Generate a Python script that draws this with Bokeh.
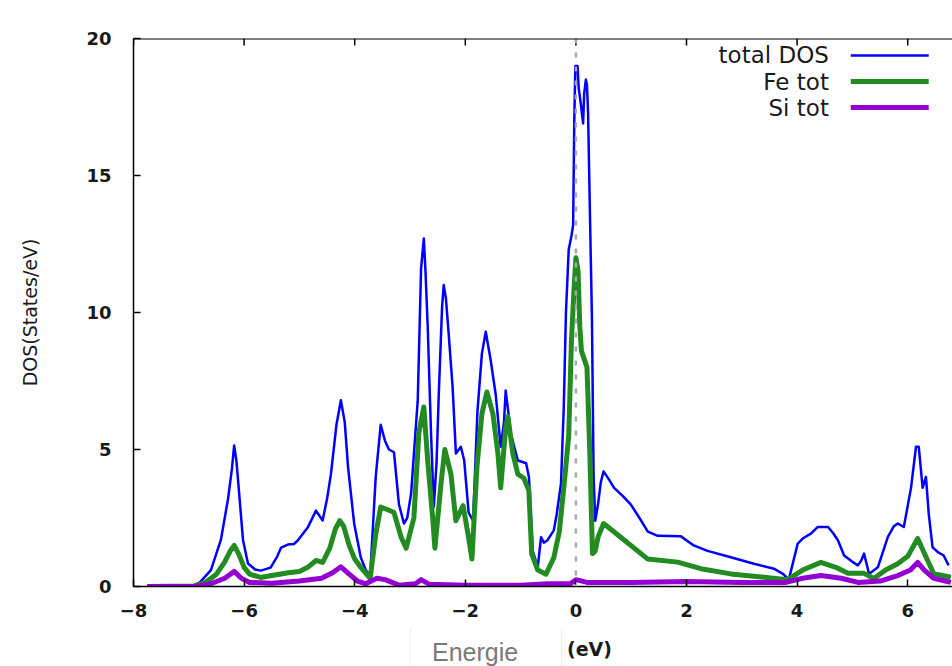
from bokeh.plotting import figure
from bokeh.models import Range1d, FixedTicker, Label, Span, Div
from bokeh.layouts import column
from bokeh.embed import file_html
from bokeh.resources import INLINE

# ---- density of states data (energy in eV, DOS in states/eV) ----
energy_total = [-7.75, -7.2, -6.9, -6.8, -6.6, -6.42, -6.29, -6.22, -6.18, -6.14, -6.11, -6.02, -5.93, -5.8,
                -5.7, -5.52, -5.4, -5.33, -5.21, -5.1, -5.03, -4.85, -4.7, -4.58, -4.5, -4.43, -4.33, -4.25,
                -4.18, -4.12, -4.01, -3.89, -3.8, -3.72, -3.62, -3.53, -3.45, -3.38, -3.29, -3.2, -3.11, -3.05,
                -2.98, -2.86, -2.8, -2.75, -2.72, -2.68, -2.62, -2.57, -2.52, -2.48, -2.42, -2.39, -2.35, -2.3,
                -2.23, -2.17, -2.08, -2.02, -1.94, -1.86, -1.78, -1.7, -1.63, -1.54, -1.45, -1.36, -1.3, -1.27,
                -1.23, -1.18, -1.05, -0.9, -0.85, -0.78, -0.69, -0.63, -0.58, -0.51, -0.4, -0.35, -0.27, -0.22,
                -0.18, -0.13, -0.08, -0.05, -0.03, -0.01, 0.03, 0.05, 0.09, 0.13, 0.15, 0.18, 0.2, 0.22, 0.25,
                0.29, 0.32, 0.35, 0.4, 0.45, 0.5, 0.6, 0.69, 0.85, 0.99, 1.15, 1.3, 1.48, 1.9, 2.13, 2.38, 2.8,
                3.22, 3.58, 3.75, 3.85, 4.01, 4.1, 4.25, 4.37, 4.56, 4.65, 4.74, 4.85, 5.0, 5.1, 5.16, 5.21,
                5.26, 5.3, 5.46, 5.64, 5.75, 5.82, 5.93, 6.06, 6.15, 6.2, 6.27, 6.33, 6.38, 6.45, 6.55, 6.65,
                6.74]
dos_total = [0.0, 0.0, 0.05, 0.15, 0.6, 1.7, 3.2, 4.3, 5.15, 4.6, 3.9, 1.7, 0.84, 0.62,
             0.58, 0.69, 1.1, 1.42, 1.53, 1.55, 1.68, 2.15, 2.77, 2.41, 3.2, 4.1, 5.9, 6.8,
             6.0, 4.35, 2.3, 1.06, 0.6, 0.4, 4.0, 5.9, 5.3, 5.0, 4.9, 3.0, 2.3, 2.5,
             3.4, 6.8, 11.6, 12.7, 11.5, 9.5, 5.6, 2.9, 4.5, 7.0, 10.2, 11.0, 10.5, 9.2,
             7.3, 4.85, 5.1, 4.6, 2.7, 2.4, 6.4, 8.5, 9.3, 8.25, 7.0, 5.1, 6.0, 7.15,
             6.5, 5.6, 4.6, 4.5, 4.0, 1.3, 0.7, 1.8, 1.6, 1.7, 2.05, 2.6, 3.75, 6.5,
             10.0, 12.3, 12.8, 13.2, 16.9, 19.0, 19.0, 18.2, 17.6, 16.9, 18.0, 18.5, 18.3, 17.3, 14.0,
             9.8, 4.0, 2.4, 3.0, 3.8, 4.2, 3.9, 3.6, 3.3, 3.0, 2.5, 2.0, 1.85, 1.83, 1.5, 1.3, 1.07,
             0.83, 0.65, 0.45, 0.25, 1.56, 1.75, 1.93, 2.17, 2.17, 1.95, 1.68, 1.13, 0.9, 0.77, 0.95, 1.2,
             0.8, 0.46, 0.7, 1.8, 2.2, 2.3, 2.17, 3.6, 5.1, 5.1, 3.6, 4.0, 2.66, 1.43, 1.25, 1.13,
             0.77]

energy_fe = [-7.75, -6.9, -6.7, -6.5, -6.35, -6.25, -6.18, -6.1, -6.0, -5.9, -5.7, -5.5, -5.2, -5.0,
             -4.85, -4.7, -4.58, -4.45, -4.35, -4.27, -4.2, -4.1, -4.0, -3.89, -3.72, -3.62, -3.53, -3.4,
             -3.29, -3.16, -3.07, -2.93, -2.84, -2.75, -2.68, -2.59, -2.55, -2.44, -2.37, -2.26, -2.17,
             -2.04, -1.95, -1.88, -1.79, -1.7, -1.61, -1.5, -1.41, -1.36, -1.27, -1.23, -1.14, -1.05,
             -0.94, -0.85, -0.8, -0.69, -0.54, -0.4, -0.3, -0.2, -0.13, -0.08, -0.03, 0.0, 0.04, 0.07,
             0.1, 0.15, 0.2, 0.25, 0.3, 0.35, 0.4, 0.5, 0.81, 1.3, 1.84, 2.26, 2.8, 3.4, 3.83, 4.1, 4.43,
             4.7, 4.92, 5.21, 5.39, 5.6, 5.82, 6.0, 6.18, 6.36, 6.47, 6.78]
dos_fe = [0.0, 0.02, 0.15, 0.45, 0.9, 1.3, 1.5, 1.2, 0.7, 0.45, 0.33, 0.4, 0.5, 0.55,
          0.7, 0.95, 0.88, 1.4, 2.1, 2.4, 2.2, 1.5, 1.0, 0.7, 0.3, 1.9, 2.9, 2.8,
          2.7, 1.8, 1.4, 2.5, 5.6, 6.55, 4.6, 2.5, 1.4, 3.75, 5.0, 4.1, 2.4,
          2.95, 1.9, 1.0, 4.35, 6.3, 7.1, 6.3, 4.85, 3.6, 5.8, 6.2, 4.85, 4.1,
          3.95, 3.5, 1.2, 0.6, 0.45, 1.05, 2.0, 4.0, 5.5, 9.0, 11.0, 12.0, 11.5, 9.5,
          8.6, 8.3, 8.0, 5.0, 1.2, 1.3, 1.8, 2.3, 1.8, 1.0, 0.89, 0.65, 0.46, 0.34, 0.25, 0.6, 0.88,
          0.7, 0.48, 0.48, 0.29, 0.6, 0.83, 1.1, 1.75, 0.95, 0.47, 0.34]

energy_si = [-7.75, -6.9, -6.6, -6.35, -6.18, -6.05, -5.9, -5.5, -5.0, -4.6, -4.4, -4.25, -4.1, -3.95,
             -3.8, -3.6, -3.45, -3.2, -2.9, -2.8, -2.65, -2.0, -1.0, -0.5, -0.1, 0.0, 0.2, 1.0, 2.0,
             3.0, 3.8, 4.1, 4.43, 4.8, 5.1, 5.5, 5.82, 6.05, 6.18, 6.3, 6.47, 6.78]
dos_si = [0.0, 0.0, 0.1, 0.3, 0.55, 0.3, 0.15, 0.12, 0.2, 0.3, 0.5, 0.72, 0.45, 0.2,
          0.1, 0.3, 0.25, 0.05, 0.1, 0.25, 0.08, 0.05, 0.05, 0.1, 0.1, 0.25, 0.15, 0.15, 0.18,
          0.15, 0.15, 0.3, 0.4, 0.3, 0.15, 0.2, 0.4, 0.6, 0.88, 0.6, 0.3, 0.15]

series_names = ["total DOS", "Fe tot", "Si tot"]
series_colors = ["#0000ff", "#228b22", "#9400d3"]
series_widths = [2.5, 5, 5]

x_ticks = [-8, -6, -4, -2, 0, 2, 4, 6]
y_ticks = [0, 5, 10, 15, 20]
x_min, x_max = -8, 6.81
y_min, y_max = 0, 20
fermi_level = 0.0

FONT = "DejaVu Sans"
TXT = "#1a1a1a"

PLOT_H = 628
p = figure(width=952, height=PLOT_H, output_backend="svg", toolbar_location=None,
           x_range=Range1d(x_min, x_max), y_range=Range1d(y_min, y_max),
           min_border_left=133, min_border_right=0, min_border_top=38, min_border_bottom=42)
p.outline_line_color = None
p.grid.grid_line_color = None
p.background_fill_color = "white"
p.border_fill_color = "white"

# curves
for xs, ys, c, w in zip([energy_total, energy_fe, energy_si], [dos_total, dos_fe, dos_si],
                        series_colors, series_widths):
    p.line(xs, ys, line_color=c, line_width=w, line_join="round")

# Fermi level marker
p.add_layout(Span(location=fermi_level, dimension="height", line_color="#a8a8a8",
                  line_width=2.5, line_dash="5 9"))

# axes styling (gnuplot-like inward ticks)
for ax in (p.xaxis[0], p.yaxis[0]):
    ax.axis_line_color = "black"
    ax.axis_line_width = 1.5
    ax.major_tick_in = 7
    ax.major_tick_out = 0
    ax.major_tick_line_width = 1.5
    ax.minor_tick_line_color = None
    ax.major_label_text_font = FONT
    ax.major_label_text_font_style = "bold"
    ax.major_label_text_font_size = "18px"
    ax.major_label_text_color = TXT

p.xaxis.ticker = FixedTicker(ticks=x_ticks)
p.yaxis.ticker = FixedTicker(ticks=y_ticks)
p.xaxis.major_label_standoff = 17
p.yaxis.major_label_standoff = 22

p.yaxis.axis_label = "DOS(States/eV)"
p.yaxis.axis_label_text_font = FONT
p.yaxis.axis_label_text_font_style = "normal"
p.yaxis.axis_label_text_font_size = "19px"
p.yaxis.axis_label_text_color = TXT
p.yaxis.axis_label_standoff = 42

# top border of the frame with mirrored ticks
p.add_layout(Span(location=y_max, dimension="width", line_color="black", line_width=2))
tick_len = 0.26
p.segment(x0=x_ticks, y0=[y_max] * len(x_ticks), x1=x_ticks,
          y1=[y_max - tick_len] * len(x_ticks), line_color="black", line_width=1.5)

# key (labels on the left, samples on the right)
key_text_x = 4.575
key_line = (4.97, 6.38)
key_rows = [19.38, 18.43, 17.48]
for name, c, w, yk in zip(series_names, series_colors, series_widths, key_rows):
    p.add_layout(Label(x=key_text_x, y=yk, text=name, text_font=FONT, text_font_size="23px",
                       text_color=TXT, text_align="right", text_baseline="middle"))
    p.segment(x0=[key_line[0]], y0=[yk], x1=[key_line[1]], y1=[yk], line_color=c, line_width=w)

# x axis caption strip under the plot
caption = Div(width=952, height=666 - PLOT_H, margin=0, text="""
<div style="position:relative;width:952px;height:38px;overflow:hidden;">
  <div style="position:absolute;left:410px;top:-5px;width:152px;height:60px;
              border:1px solid #f0f0f0;border-radius:6px;"></div>
  <span style="position:absolute;left:432px;top:10px;line-height:28px;
               font-family:'Liberation Sans';font-size:25px;color:#7a7a7a;">Energie</span>
  <span style="position:absolute;left:567px;top:10px;line-height:22px;
               font-family:'DejaVu Sans';font-size:19px;font-weight:bold;color:#1a1a1a;">(eV)</span>
</div>
""")

layout = column(p, caption, spacing=0)
open("out.html", "w").write(file_html(layout, INLINE))
